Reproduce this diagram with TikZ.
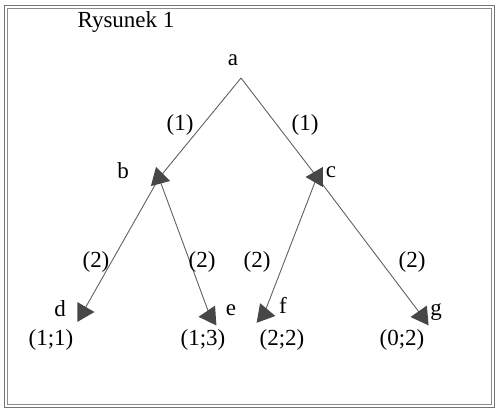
\documentclass[tikz,border=0pt]{standalone}
\usepackage{fontspec}
\setmainfont{Liberation Serif}
\usetikzlibrary{shapes.geometric,backgrounds}

\begin{document}
\begin{tikzpicture}[x=1pt,y=-1pt,font=\fontsize{23}{27}\selectfont,
 lbl/.style={inner sep=0pt},
 arrowhd/.style={regular polygon,regular polygon sides=3,fill=black!72,draw=none,inner sep=0pt,minimum size=23pt},
 branch/.style={draw=black!62,line width=0.9pt}]
\useasboundingbox (0,0) rectangle (496,410);
\draw[black!55,line width=1pt] (4,5) rectangle (494.5,407);
\draw[black!45,line width=0.8pt] (7.5,8.5) rectangle (491,404);
\node[lbl] (title) at (126,22) {Rysunek 1};
\coordinate (top) at (241,78);
\node[lbl] (a) at (233,60) {a};
\node[arrowhd,rotate=-105] (hb) at (159,178) {};
\node[arrowhd,rotate=90] (hc) at (317,177) {};
\node[arrowhd,rotate=-90] (hd) at (83,312) {};
\node[arrowhd,rotate=94] (he) at (210,316) {};
\node[arrowhd,rotate=-100] (hf) at (264,314) {};
\node[arrowhd,rotate=95] (hg) at (422,316) {};
\begin{scope}[on background layer]
\draw[branch] (top) -- (hb.center);
\draw[branch] (top) -- (hc.center);
\draw[branch] (hb.center) -- (hd.center);
\draw[branch] (hb.center) -- (he.center);
\draw[branch] (hc.center) -- (hf.center);
\draw[branch] (hc.center) -- (hg.center);
\end{scope}
\node[lbl] (b) at (123,171) {b};
\node[lbl] (c) at (331,172) {c};
\node[lbl] (d) at (60,309) {d};
\node[lbl] (e) at (231,310) {e};
\node[lbl] (f) at (283,305) {f};
\node[lbl] (g) at (436,312) {g};
\node[lbl] (pd) at (51,340) {(1;1)};
\node[lbl] (pe) at (203,340) {(1;3)};
\node[lbl] (pf) at (282,340) {(2;2)};
\node[lbl] (pg) at (402,340) {(0;2)};
\node[lbl] (wab) at (180,125) {(1)};
\node[lbl] (wac) at (305,125) {(1)};
\node[lbl] (wbd) at (96,262) {(2)};
\node[lbl] (wbe) at (202,262) {(2)};
\node[lbl] (wcf) at (257,262) {(2)};
\node[lbl] (wcg) at (412,262) {(2)};
\end{tikzpicture}
\end{document}
